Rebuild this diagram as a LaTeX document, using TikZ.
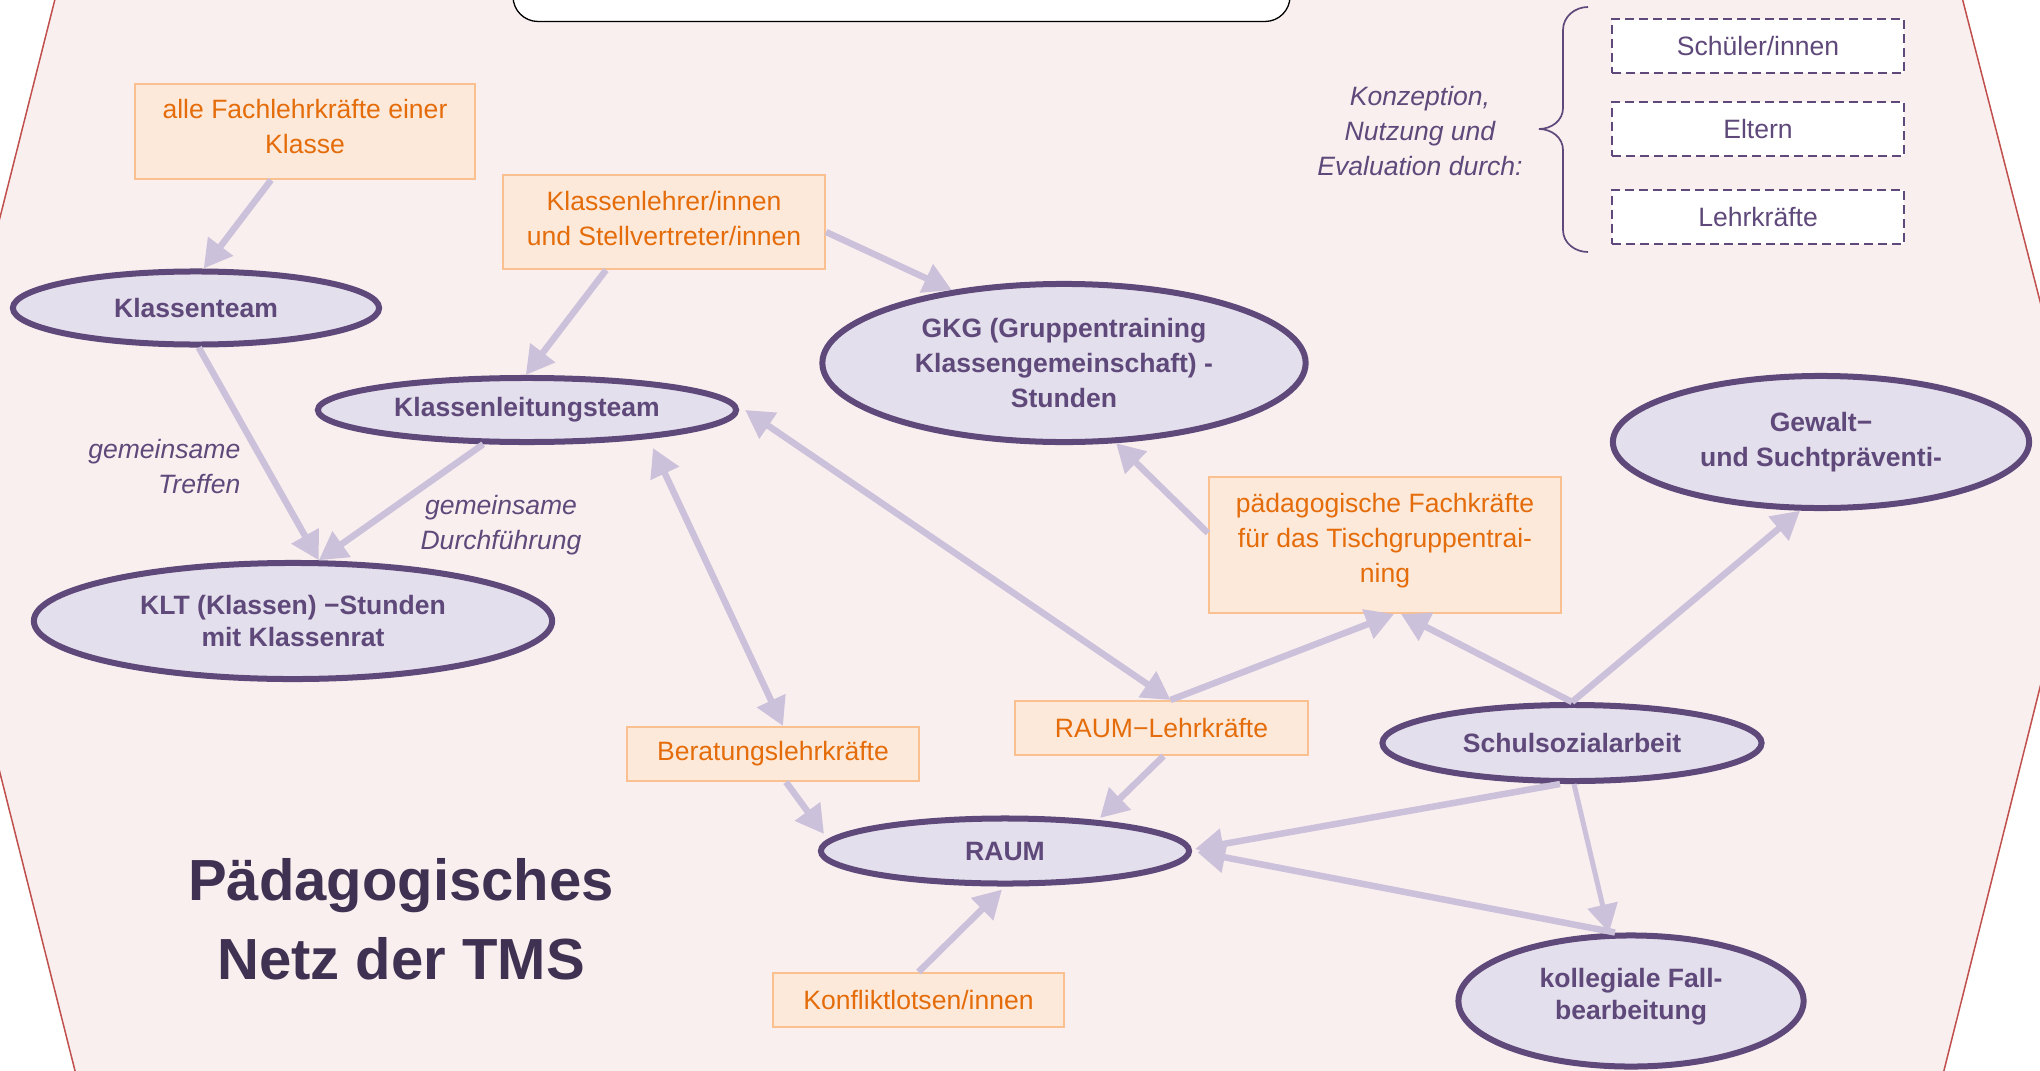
\documentclass[tikz,border=0pt]{standalone}
\usepackage{fontspec}
\setmainfont{Liberation Sans}
\usetikzlibrary{shapes.geometric,arrows.meta,calc}
\definecolor{bgpink}{HTML}{F9EFEF}
\definecolor{hexred}{HTML}{C0504D}
\definecolor{lav}{HTML}{E4DFEC}
\definecolor{purpD}{HTML}{5F497A}
\definecolor{titleC}{HTML}{3F3151}
\definecolor{arrC}{HTML}{CCC1DA}
\definecolor{orF}{HTML}{FDE9D9}
\definecolor{orB}{HTML}{FAC090}
\definecolor{orT}{HTML}{E46C0A}
\newcommand\basefont{\fontsize{7.55pt}{9.95pt}\selectfont}
\newcommand\tightfont{\fontsize{7.55pt}{8.9pt}\selectfont}
\begin{document}
\begin{tikzpicture}[x=0.01cm,y=-0.01cm,
  ell/.style={ellipse, draw=purpD, line width=0.06cm, fill=lav, text=purpD, font=\basefont\bfseries, align=center, inner sep=0pt},
  obox/.style={rectangle, draw=orB, line width=0.02cm, fill=orF, text=orT, font=\basefont, align=center, inner sep=0pt},
  dbox/.style={rectangle, draw=purpD, line width=0.022cm, dash pattern=on 0.09cm off 0.05cm, fill=white, text=purpD, font=\basefont, inner sep=0pt, minimum width=2.92cm, minimum height=0.54cm},
  conn/.style={draw=arrC, line width=0.065cm, -{Triangle[length=0.28cm,width=0.30cm]}},
  conntwo/.style={draw=arrC, line width=0.065cm, {Triangle[length=0.28cm,width=0.30cm]}-{Triangle[length=0.28cm,width=0.30cm]}},
  lbl/.style={text=purpD, font=\basefont\itshape, inner sep=0pt}]
\useasboundingbox (0,0) rectangle (2040,1070);
\clip (0,0) rectangle (2040,1070);
\fill[white] (0,0) rectangle (2040,1070);
% background hexagon
\draw[fill=bgpink, draw=hexred, line width=0.015cm] (-70,495) -- (80,-100) -- (1937,-100) -- (2089,492) -- (1919,1170) -- (100,1170) -- cycle;
% top rounded box
\draw[black, line width=0.013cm, fill=white, rounded corners=0.25cm] (513,-60) rectangle (1290,21.5);

% ellipses
\node[ell, minimum width=3.66cm, minimum height=0.73cm] (kt) at (196,308) {Klassenteam};
\node[ell, minimum width=4.18cm, minimum height=0.64cm] (klt) at (527,410) {Klassenleitungsteam};
\node[ell, minimum width=4.83cm, minimum height=1.58cm] (gkg) at (1064,363) {GKG (Gruppentraining\\Klassengemeinschaft) -\\Stunden};
\node[ell, minimum width=4.16cm, minimum height=1.32cm] (gew) at (1821,442) {Gewalt−\\und Suchtpräventi-};
\node[ell, font=\tightfont\bfseries, minimum width=5.18cm, minimum height=1.16cm] (kltst) at (293,621) {KLT (Klassen) −Stunden\\mit Klassenrat};
\node[ell, minimum width=3.79cm, minimum height=0.76cm] (ssa) at (1572,743) {Schulsozialarbeit};
\node[ell, minimum width=3.68cm, minimum height=0.65cm] (raum) at (1005,851) {RAUM};
\node[ell, font=\tightfont\bfseries, text depth=0.14cm, minimum width=3.45cm, minimum height=1.31cm] (kfb) at (1631,1001) {kollegiale Fall-\\bearbeitung};

% orange boxes
\node[obox, text depth=0.1cm, minimum width=3.40cm, minimum height=0.95cm] (a) at (305,131.5) {alle Fachlehrkräfte einer\\Klasse};
\node[obox, text depth=0.08cm, minimum width=3.22cm, minimum height=0.94cm] (b) at (664,222) {Klassenlehrer/innen\\und Stellvertreter/innen};
\node[obox, text depth=0.14cm, minimum width=3.52cm, minimum height=1.36cm] (c) at (1385,545) {pädagogische Fachkräfte\\für das Tischgruppentrai-\\ning};
\node[obox, minimum width=2.92cm, minimum height=0.54cm] (d) at (773,754) {Beratungslehrkräfte};
\node[obox, minimum width=2.93cm, minimum height=0.54cm] (e) at (1161.5,728) {RAUM−Lehrkräfte};
\node[obox, minimum width=2.91cm, minimum height=0.54cm] (f) at (918.5,1000) {Konfliktlotsen/innen};

% dashed boxes
\node[dbox] (s1) at (1758,46) {Schüler/innen};
\node[dbox] (s2) at (1758,129) {Eltern};
\node[dbox] (s3) at (1758,217) {Lehrkräfte};

% brace
\draw[purpD, line width=0.017cm] (1588,7) to[out=180,in=90] (1563,30) -- (1563,108) to[out=-90,in=0] (1539,129) to[out=0,in=90] (1563,150) -- (1563,230) to[out=-90,in=180] (1588,252);

% labels
\node[lbl, align=center] (konz) at (1420,131) {Konzeption,\\Nutzung und\\Evaluation durch:};
\node[lbl, align=right, anchor=east] (tr) at (241,467) {gemeinsame\\Treffen};
\node[lbl, align=center] (df) at (501,525) {gemeinsame\\Durchführung};
\node[font=\fontsize{16.5pt}{22.5pt}\selectfont\bfseries, text=titleC, align=center] (title) at (401,919) {Pädagogisches\\Netz der TMS};

% connectors
\draw[conn] ($(a.south)+(-34,0)$) -- (kt.79);
\draw[conn] ($(b.south)+(-58,0)$) -- (klt.92);
\draw[conn] ($(b.east)+(0,10)$) -- (gkg.147);
\draw[conn] (kt.-86) -- (kltst.67);
\draw[conn] (klt.-142) -- (kltst.67);
\draw[conntwo] ($(klt.center)+(126,38)$) -- ($(d.north)+(10,0)$);
\draw[conntwo] ($(klt.east)+(6,0)$) -- ($(e.north)+(9,0)$);
\draw[conn] ($(e.north)+(9,0)$) -- ($(c.south)+(9,0)$);
\draw[conn] (ssa.north) -- ($(c.south)+(16,0)$);
\draw[conn] (ssa.north) -- (gew.-107);
\draw[conn] ($(c.west)+(0,-12)$) -- (gkg.-57);
\draw[conn] ($(d.south)+(13,0)$) -- ($(raum.center)+(-181,-17)$);
\draw[conn] ($(e.south)+(2,0)$) -- ($(raum.center)+(95,-33)$);
\draw[conn] ($(ssa.south)+(-12,0)$) -- ($(raum.east)+(3,-2)$);
\draw[conn] ($(kfb.north)+(-16,0)$) -- ($(raum.east)+(5,1)$);
\draw[conn, line width=0.05cm] ($(ssa.south)+(2,0)$) -- ($(kfb.north)+(-22,0)$);
\draw[conn] (f.north) -- ($(raum.south)+(-3,3)$);
\end{tikzpicture}
\end{document}
